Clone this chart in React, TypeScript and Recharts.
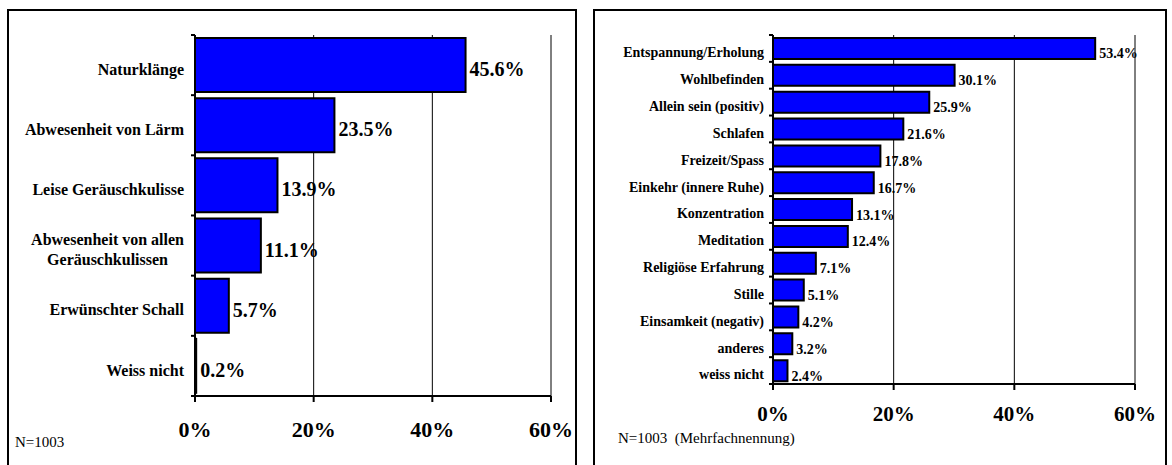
import { BarChart, Bar, XAxis, YAxis, CartesianGrid, LabelList } from 'recharts'

const leftCategories = [
  'Naturklänge',
  'Abwesenheit von Lärm',
  'Leise Geräuschkulisse',
  'Abwesenheit von allen\nGeräuschkulissen',
  'Erwünschter Schall',
  'Weiss nicht',
]
const leftValues = [45.6, 23.5, 13.9, 11.1, 5.7, 0.2]

const rightCategories = [
  'Entspannung/Erholung',
  'Wohlbefinden',
  'Allein sein (positiv)',
  'Schlafen',
  'Freizeit/Spass',
  'Einkehr (innere Ruhe)',
  'Konzentration',
  'Meditation',
  'Religiöse Erfahrung',
  'Stille',
  'Einsamkeit (negativ)',
  'anderes',
  'weiss nicht',
]
const rightValues = [53.4, 30.1, 25.9, 21.6, 17.8, 16.7, 13.1, 12.4, 7.1, 5.1, 4.2, 3.2, 2.4]

const xTicks = [0, 20, 40, 60]

const FONT = '"Liberation Serif", "Times New Roman", serif'

let ctx: CanvasRenderingContext2D | null = null
function textWidth(s: string, size: number) {
  if (!ctx) ctx = document.createElement('canvas').getContext('2d')
  if (!ctx) return s.length * size * 0.5
  ctx.font = `bold ${size}px ${FONT}`
  return ctx.measureText(s).width
}

function makeTick(axisX: number, band: number, fontSize: number, gap: number, last: number, shift: number) {
  return (props: any) => {
    const { y, payload, index } = props
    const lines = String(payload.value).split('\n')
    const w = Math.max(...lines.map(l => textWidth(l, fontSize)))
    const cx = axisX - gap - w / 2
    const lh = fontSize * 1.25
    const y0 = y + shift - ((lines.length - 1) * lh) / 2 + fontSize * 0.35
    return (
      <g>
        <line x1={axisX - 4} x2={axisX} y1={y - band / 2} y2={y - band / 2} stroke="#000" strokeWidth={2} />
        {index === last && (
          <line x1={axisX - 4} x2={axisX} y1={y + band / 2} y2={y + band / 2} stroke="#000" strokeWidth={2} />
        )}
        <text textAnchor="middle" fontFamily={FONT} fontWeight="bold" fontSize={fontSize} fill="#000">
          {lines.map((l, i) => (
            <tspan key={i} x={cx} y={y0 + i * lh}>
              {l}
            </tspan>
          ))}
        </text>
      </g>
    )
  }
}

interface PanelProps {
  categories: string[]
  values: number[]
  width: number
  height: number
  yAxisWidth: number
  top: number
  right: number
  bottom: number
  catFont: number
  catGap: number
  valFont: number
  valShift: number
  tickFont: number
  tickMargin: number
}

function Panel(p: PanelProps) {
  const data = p.categories.map((name, i) => ({ name, value: p.values[i] }))
  const xAxisHeight = 40
  const plotH = p.height - p.top - p.bottom - xAxisHeight
  const band = plotH / data.length
  return (
    <BarChart
      layout="vertical"
      width={p.width}
      height={p.height}
      data={data}
      margin={{ top: p.top, right: p.right, bottom: p.bottom, left: 0 }}
      barCategoryGap={3}
    >
      <CartesianGrid horizontal={false} stroke="#000" strokeWidth={1} strokeDasharray="" />
      <XAxis
        type="number"
        domain={[0, 60]}
        ticks={xTicks}
        interval={0}
        height={xAxisHeight}
        tickFormatter={(v: number) => `${v}%`}
        axisLine={{ stroke: '#000', strokeWidth: 2 }}
        tickLine={{ stroke: '#000', strokeWidth: 2 }}
        tickSize={6}
        tickMargin={p.tickMargin}
        tick={{ fill: '#000', fontFamily: FONT, fontWeight: 'bold', fontSize: p.tickFont }}
      />
      <YAxis
        type="category"
        dataKey="name"
        width={p.yAxisWidth}
        interval={0}
        axisLine={{ stroke: '#000', strokeWidth: 2 }}
        tickLine={false}
        tickSize={0}
        tick={makeTick(p.yAxisWidth, band, p.catFont, p.catGap, data.length - 1, 4)}
      />
      <Bar dataKey="value" fill="#0000ff" stroke="#000" strokeWidth={2} isAnimationActive={false}>
        <LabelList
          dataKey="value"
          position="right"
          offset={4}
          formatter={(v: any) => `${Number(v).toFixed(1)}%`}
          style={{ fontFamily: FONT, fontWeight: 'bold', fontSize: p.valFont, fill: '#000' }}
          dy={p.valShift}
        />
      </Bar>
    </BarChart>
  )
}

const boxStyle = (left: number, width: number): React.CSSProperties => ({
  position: 'absolute',
  left,
  top: 9,
  width,
  height: 470,
  border: '2px solid #000',
  boxSizing: 'border-box',
  background: '#fff',
})

const noteStyle: React.CSSProperties = {
  position: 'absolute',
  fontFamily: FONT,
  fontSize: 15,
  color: '#000',
  whiteSpace: 'pre',
  lineHeight: 1,
}

export default function App() {
  return (
    <div
      style={{ position: 'absolute', left: 0, top: 0, width: 1172, height: 465, overflow: 'hidden', background: '#fff' }}
    >
      <div style={boxStyle(7, 570)}>
        <div style={{ position: 'absolute', left: 0, top: 0 }}>
          <Panel
            categories={leftCategories}
            values={leftValues}
            width={566}
            height={454}
            yAxisWidth={186}
            top={24}
            right={24}
            bottom={29}
            catFont={16}
            catGap={11}
            valFont={20}
            valShift={4}
            tickFont={22}
            tickMargin={19}
          />
        </div>
        <div style={{ ...noteStyle, left: 6, top: 424 }}>N=1003</div>
      </div>
      <div style={boxStyle(593, 574)}>
        <div style={{ position: 'absolute', left: 0, top: 0 }}>
          <Panel
            categories={rightCategories}
            values={rightValues}
            width={570}
            height={454}
            yAxisWidth={178}
            top={24}
            right={30}
            bottom={41}
            catFont={14}
            catGap={9}
            valFont={14}
            valShift={5}
            tickFont={21}
            tickMargin={16}
          />
        </div>
        <div style={{ ...noteStyle, left: 23, top: 420 }}>N=1003  (Mehrfachnennung)</div>
      </div>
    </div>
  )
}
